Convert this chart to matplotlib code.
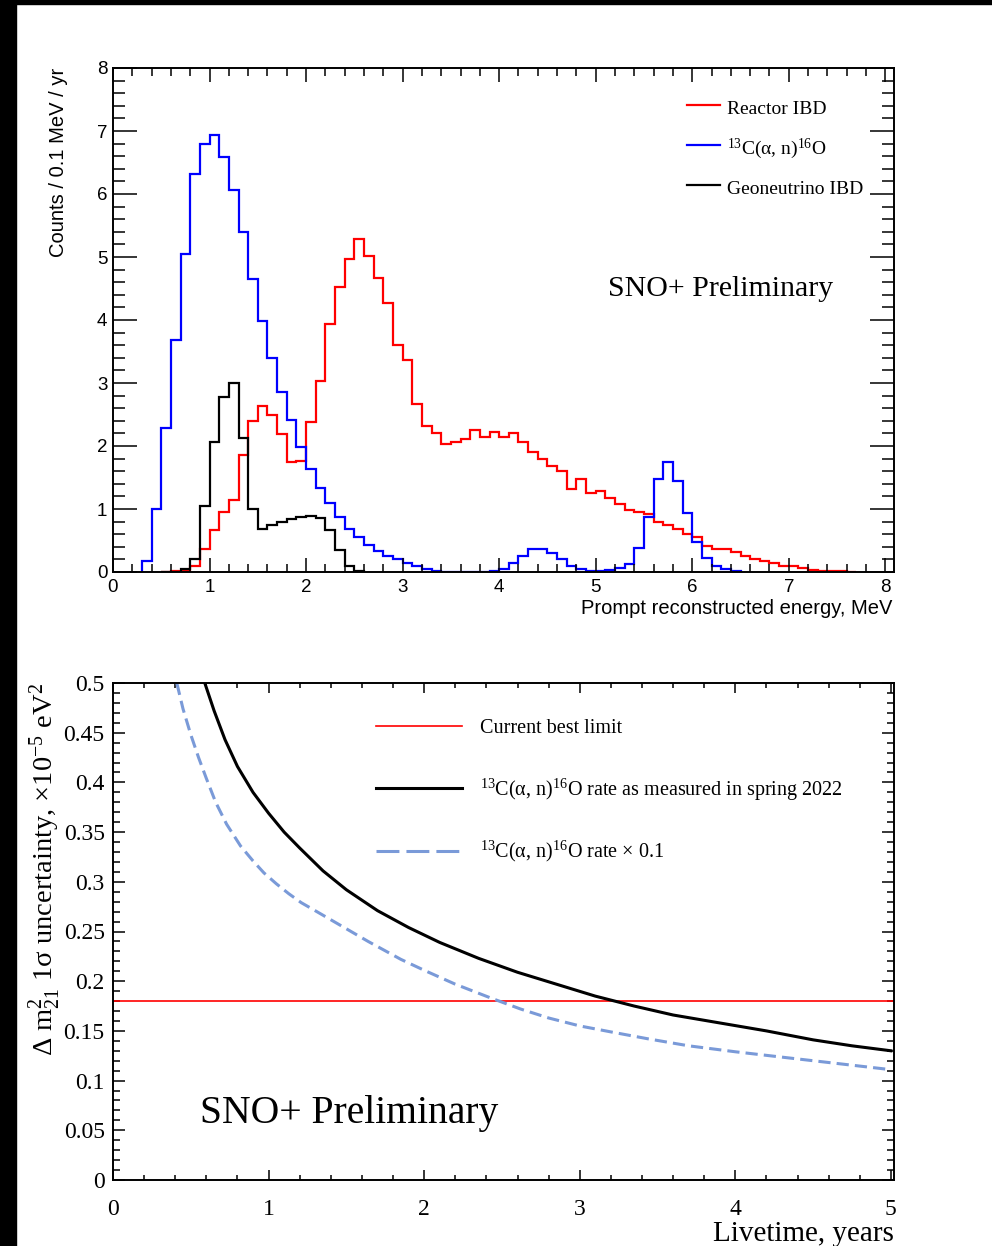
import numpy as np
import matplotlib
matplotlib.use('Agg')
import matplotlib.pyplot as plt
from matplotlib.ticker import MultipleLocator, FuncFormatter
from matplotlib.patches import Rectangle

plt.rcParams['mathtext.fontset'] = 'custom'
plt.rcParams['mathtext.rm'] = 'Liberation Serif'
plt.rcParams['mathtext.it'] = 'Liberation Serif:italic'
plt.rcParams['mathtext.bf'] = 'Liberation Serif:bold'

# --- top panel: prompt energy spectra (counts / 0.1 MeV / yr)
bin_width = 0.1
reactor_start = 0.5
reactor_counts = [0.005, 0.01, 0.02, 0.09, 0.36, 0.66, 0.95, 1.15, 1.85, 2.40,
                  2.64, 2.50, 2.19, 1.74, 1.76, 2.38, 3.03, 3.93, 4.53, 4.97,
                  5.29, 5.02, 4.66, 4.27, 3.61, 3.36, 2.67, 2.32, 2.20, 2.03,
                  2.07, 2.11, 2.25, 2.15, 2.22, 2.14, 2.20, 2.06, 1.90, 1.79,
                  1.68, 1.61, 1.32, 1.48, 1.25, 1.29, 1.18, 1.08, 0.99, 0.95,
                  0.92, 0.79, 0.74, 0.68, 0.60, 0.56, 0.42, 0.37, 0.36, 0.32,
                  0.25, 0.21, 0.17, 0.14, 0.10, 0.09, 0.06, 0.03, 0.02, 0.015,
                  0.01, 0.005]
alphan_start = 0.3
alphan_counts = [0.18, 1.00, 2.28, 3.69, 5.04, 6.32, 6.80, 6.93, 6.59, 6.07,
                 5.40, 4.65, 3.98, 3.39, 2.86, 2.41, 1.98, 1.64, 1.33, 1.09,
                 0.87, 0.69, 0.55, 0.43, 0.34, 0.25, 0.21, 0.14, 0.09, 0.05,
                 0.02, 0.0, 0.0, 0.0, 0.0, 0.0, 0.02, 0.05, 0.14, 0.25,
                 0.36, 0.37, 0.30, 0.20, 0.09, 0.05, 0.02, 0.01, 0.03, 0.06,
                 0.13, 0.38, 0.88, 1.48, 1.75, 1.45, 0.93, 0.47, 0.23, 0.09,
                 0.05, 0.02]
geo_start = 0.5
geo_counts = [0.002, 0.005, 0.05, 0.20, 1.04, 2.06, 2.77, 3.00, 2.12, 1.00,
              0.69, 0.74, 0.80, 0.84, 0.87, 0.89, 0.86, 0.66, 0.35, 0.10,
              0.02]
spectra_labels = ['Reactor IBD', r'$^{13}$C(α, n)$^{16}$O', 'Geoneutrino IBD']

# --- bottom panel: dm2_21 1 sigma uncertainty vs livetime
best_limit = 0.18
livetime_now = [0.59, 0.65, 0.72, 0.80, 0.90, 1.00, 1.10, 1.20, 1.35, 1.50,
                1.70, 1.90, 2.10, 2.35, 2.60, 2.85, 3.10, 3.35, 3.60, 3.90,
                4.20, 4.50, 4.75, 5.00]
sigma_now = [0.500, 0.472, 0.443, 0.416, 0.390, 0.369, 0.350, 0.334, 0.311, 0.292,
             0.271, 0.254, 0.239, 0.223, 0.209, 0.197, 0.185, 0.175, 0.166, 0.158,
             0.150, 0.141, 0.135, 0.130]
livetime_low = [0.41, 0.45, 0.50, 0.55, 0.60, 0.66, 0.73, 0.82, 0.90, 0.97,
                1.05, 1.13, 1.21, 1.31, 1.42, 1.64, 1.85, 2.00, 2.20, 2.43,
                2.62, 2.80, 3.00, 3.20, 3.44, 3.70, 4.00, 4.50, 5.00]
sigma_low = [0.500, 0.474, 0.448, 0.425, 0.404, 0.380, 0.358, 0.336, 0.321, 0.309,
             0.298, 0.288, 0.279, 0.270, 0.260, 0.240, 0.222, 0.211, 0.197, 0.183,
             0.172, 0.163, 0.155, 0.149, 0.142, 0.135, 0.129, 0.120, 0.111]
sens_labels = ['Current best limit',
               r'$^{13}$C(α, n)$^{16}$O rate as measured in spring 2022',
               r'$^{13}$C(α, n)$^{16}$O rate × 0.1']

W, H = 992, 1246
SANS = 'Liberation Sans'
SERIF = 'Liberation Serif'

fig = plt.figure(figsize=(W / 100, H / 100), dpi=100)
fig.add_artist(Rectangle((0, 1 - 4 / H), 1, 4 / H, color='black', transform=fig.transFigure, zorder=10))
fig.add_artist(Rectangle((0, 0), 16 / W, 1, color='black', transform=fig.transFigure, zorder=10))

# ---------------- top panel
ax1 = fig.add_axes([113 / W, 1 - 572 / H, 781 / W, 504 / H])
colors = ['#ff0000', '#0000ff', '#000000']
for start, counts, c in [(reactor_start, reactor_counts, colors[0]),
                         (alphan_start, alphan_counts, colors[1]),
                         (geo_start, geo_counts, colors[2])]:
    edges = start + bin_width * np.arange(len(counts) + 1)
    ax1.stairs(counts, edges, baseline=0, color=c, lw=1.6)

ax1.set_xlim(0, 8.09)
ax1.set_ylim(0, 8)
ax1.xaxis.set_major_locator(MultipleLocator(1))
ax1.xaxis.set_minor_locator(MultipleLocator(0.2))
ax1.yaxis.set_major_locator(MultipleLocator(1))
ax1.yaxis.set_minor_locator(MultipleLocator(0.2))
ax1.tick_params(which='both', direction='in', top=True, right=True, width=1.1, labelsize=13.5)
ax1.tick_params(axis='x', which='major', length=10, pad=5)
ax1.tick_params(axis='x', which='minor', length=5.8)
ax1.tick_params(axis='y', which='major', length=17, pad=4)
ax1.tick_params(axis='y', which='minor', length=8.6)
for lab in ax1.get_xticklabels() + ax1.get_yticklabels():
    lab.set_fontfamily(SANS)
for s in ax1.spines.values():
    s.set_linewidth(1.4)

for i, (lab, c) in enumerate(zip(spectra_labels, colors)):
    y = [0.9266, 0.8472, 0.7679][i]
    ax1.plot([0.735, 0.777], [y, y], color=c, lw=1.6, transform=ax1.transAxes, clip_on=False)
    ax1.text(0.786, y - 0.0179, lab, transform=ax1.transAxes, fontsize=14,
             fontfamily=SERIF, va='baseline', ha='left')
ax1.text(0.634, 0.5476, 'SNO+ Preliminary', transform=ax1.transAxes, fontsize=21.5,
         fontfamily=SERIF, va='baseline', ha='left')

fig.text(58 / W, 1 - 68 / H, 'Counts / 0.1 MeV / yr', rotation=90, ha='center', va='top',
         fontsize=14.5, fontfamily=SANS)
fig.text(892 / W, 1 - 614 / H, 'Prompt reconstructed energy, MeV', ha='right', va='baseline',
         fontsize=14.5, fontfamily=SANS)

# ---------------- bottom panel
ax2 = fig.add_axes([113 / W, 1 - 1180 / H, 781 / W, 497 / H])
ax2.axhline(best_limit, color='#ff0000', lw=1.2)
ax2.plot(livetime_now, sigma_now, color='black', lw=2.2)
ax2.plot(livetime_low, sigma_low, color='#7a9ad8', lw=2.2, ls=(0, (4, 2)))

ax2.set_xlim(0, 5.02)
ax2.set_ylim(0, 0.5)
ax2.xaxis.set_major_locator(MultipleLocator(1))
ax2.xaxis.set_minor_locator(MultipleLocator(0.2))
ax2.yaxis.set_major_locator(MultipleLocator(0.05))
ax2.yaxis.set_minor_locator(MultipleLocator(0.01))
ax2.yaxis.set_major_formatter(FuncFormatter(lambda v, p: f'{v:g}'))
ax2.tick_params(which='both', direction='in', top=True, right=True, width=1.1, labelsize=17)
ax2.tick_params(axis='x', which='major', length=7.2, pad=14)
ax2.tick_params(axis='x', which='minor', length=3.6)
ax2.tick_params(axis='y', which='major', length=8.6, pad=6)
ax2.tick_params(axis='y', which='minor', length=5)
for lab in ax2.get_xticklabels() + ax2.get_yticklabels():
    lab.set_fontfamily(SERIF)
for s in ax2.spines.values():
    s.set_linewidth(1.4)

leg_styles = [dict(color='#ff0000', lw=1.2),
              dict(color='black', lw=2.2),
              dict(color='#7a9ad8', lw=2.2, ls=(0, (7.5, 2.3)))]
for i, (lab, st) in enumerate(zip(sens_labels, leg_styles)):
    y = [0.9135, 0.788, 0.6626][i]
    ax2.plot([0.3367, 0.4469], [y, y], transform=ax2.transAxes, **st)
    ax2.text(0.4699, y - 0.0141, lab, transform=ax2.transAxes, fontsize=14.5,
             fontfamily=SERIF, va='baseline', ha='left')
ax2.text(0.1114, 0.1147, 'SNO+ Preliminary', transform=ax2.transAxes, fontsize=28.5,
         fontfamily=SERIF, va='baseline', ha='left')

fig.text(45 / W, 1 - 683 / H, r'Δ m$^{2}_{21}$ 1σ uncertainty, ×10$^{-5}$ eV$^{2}$',
         rotation=90, ha='center', va='top', fontsize=20.5, fontfamily=SERIF)
fig.text(894 / W, 1 - 1241 / H, 'Livetime, years', ha='right', va='baseline',
         fontsize=21, fontfamily=SERIF)

fig.savefig('out.png', dpi=100, facecolor='white')
